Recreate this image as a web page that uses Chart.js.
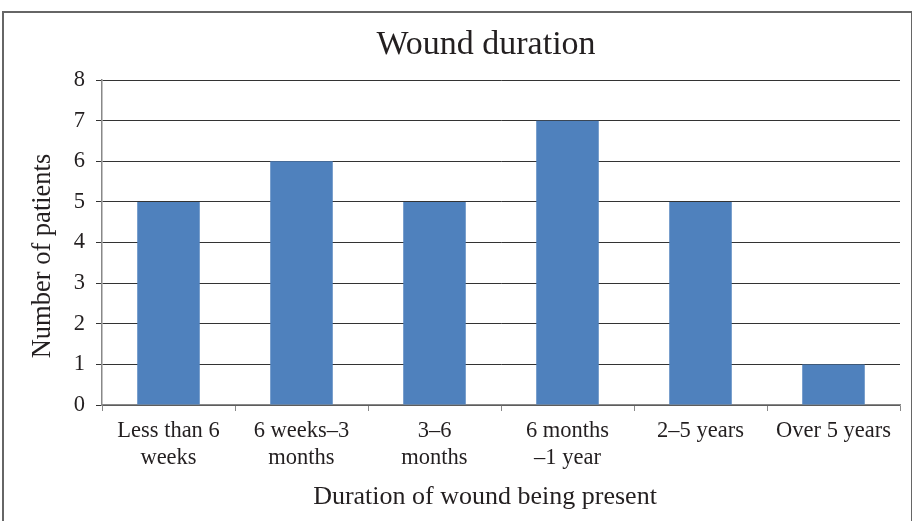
<!DOCTYPE html>
<html>
<head>
<meta charset="utf-8">
<script src="https://cdn.jsdelivr.net/npm/chart.js@4.4.0/dist/chart.umd.min.js"></script>
<style>
  body { margin: 0; background: #fff; }
  #wrap { position: relative; width: 912px; height: 521px; }
  #frame { position: absolute; left: 2px; top: 11px; width: 907px; height: 520px;
           border: 2px solid #666; pointer-events: none; }
</style>
</head>
<body>
<div id="wrap">
  <canvas id="myChart"></canvas>
  <div id="frame"></div>
</div>
<script>
// data
const categories = [
  ["Less than 6", "weeks"],
  ["6 weeks\u20133", "months"],
  ["3\u20136", "months"],
  ["6 months", "\u20131 year"],
  "2\u20135 years",
  "Over 5 years"
];
const patients = [5, 6, 5, 7, 5, 1];
const yTicks = [0, 1, 2, 3, 4, 5, 6, 7, 8];

const chartTitle = "Wound duration";
const xTitle = "Duration of wound being present";
const yTitle = "Number of patients";

const serif = "'Liberation Serif', 'DejaVu Serif', serif";

// titles are centred on the frame, not on the plot, so draw them here
const titles = {
  id: "titles",
  afterDraw(chart) {
    const c = chart.ctx;
    c.save();
    c.fillStyle = "#231f20";
    c.textAlign = "center";
    c.textBaseline = "middle";
    c.font = "34px " + serif;
    c.fillText(chartTitle, 486, 45);
    c.font = "26px " + serif;
    c.fillText(xTitle, 485, 497);
    c.font = "26.5px " + serif;
    c.translate(43, 256);
    c.rotate(-Math.PI / 2);
    c.fillText(yTitle, 0, 0);
    c.restore();
  }
};

const ctx = document.getElementById("myChart");
new Chart(ctx, {
  type: "bar",
  data: {
    labels: categories,
    datasets: [
      {
        label: "Patients",
        data: patients,
        backgroundColor: "#4f81bd",
        borderWidth: 0,
        barPercentage: 0.47,
        categoryPercentage: 1
      }
    ]
  },
  options: {
    responsive: true,
    maintainAspectRatio: false,
    animation: false,
    layout: { padding: { top: 80, right: 12, bottom: 0, left: 0 } },
    plugins: {
      legend: { display: false },
      tooltip: { enabled: false }
    },
    scales: {
      x: {
        afterFit: (s) => { s.height = 116; },
        grid: {
          offset: true,
          drawOnChartArea: false,
          color: "#888",
          tickLength: 6
        },
        border: { color: "#888", width: 1.5 },
        ticks: {
          color: "#231f20",
          padding: 7,
          maxRotation: 0,
          autoSkip: false,
          font: { family: serif, size: 22.5, lineHeight: 1.2 }
        }
      },
      y: {
        min: 0,
        max: 8,
        afterFit: (s) => { s.width = 102; },
        afterBuildTicks: (s) => { s.ticks = yTicks.map((v) => ({ value: v })); },
        grid: { color: "#333", lineWidth: 1, tickLength: 6 },
        border: { color: "#888", width: 1.5 },
        ticks: {
          color: "#231f20",
          padding: 11,
          font: { family: serif, size: 22.5 }
        }
      }
    }
  },
  plugins: [titles]
});
</script>
</body>
</html>
